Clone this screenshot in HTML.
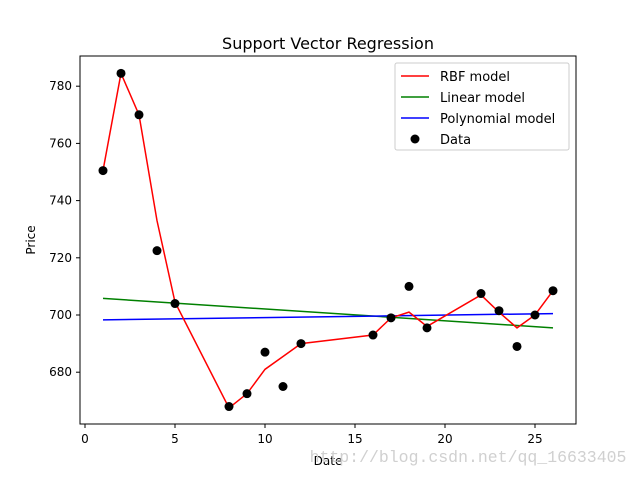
<!DOCTYPE html>
<html><head><meta charset="utf-8"><style>
body{margin:0;background:#fff;width:640px;height:476px;overflow:hidden}
text{font-family:"DejaVu Sans","Liberation Sans",sans-serif;fill:#000}
</style></head><body>
<svg id="chart" width="640" height="476">
<rect x="0" y="0" width="640" height="476" fill="#fff"/>
<text x="328" y="49" font-size="16" text-anchor="middle">Support Vector Regression</text>
<g id="plot"></g>
<rect x="80" y="56" width="496" height="368" fill="none" stroke="#000" stroke-width="1"/>
<text x="328" y="465" font-size="12" text-anchor="middle">Date</text>
<text x="35" y="240" font-size="12" text-anchor="middle" transform="rotate(-90 35 240)">Price</text>
<g>
<rect x="395" y="63" width="174" height="87" fill="#fff" stroke="#ccc" rx="2"/>
<line x1="401" y1="76" x2="429" y2="76" stroke="red" stroke-width="1.5"/>
<text x="440" y="81" font-size="13">RBF model</text>
<line x1="401" y1="97" x2="429" y2="97" stroke="green" stroke-width="1.5"/>
<text x="440" y="102" font-size="13">Linear model</text>
<line x1="401" y1="118" x2="429" y2="118" stroke="blue" stroke-width="1.5"/>
<text x="440" y="123" font-size="13">Polynomial model</text>
<circle cx="415" cy="139" r="4.5" fill="#000"/>
<text x="440" y="144" font-size="13">Data</text>
</g>
<text x="468" y="462" font-size="16.5" text-anchor="middle" style="fill:#d0d0d0;font-family:'Liberation Mono',monospace">http://blog.csdn.net/qq_16633405</text>
</svg>
<script>
const dates=[1,2,3,4,5,8,9,10,11,12,16,17,18,19,22,23,24,25,26];
const prices=[750.5,784.5,770,722.5,704,668,672.5,687,675,690,693,699,710,695.5,707.5,701.5,689,700,708.5];
const rbf=[750.5,784.5,770,733,704.5,667.5,672.5,681,685.5,690,693,699,701,696,707,701,695.5,700,708.5];
const linearEnds=[705.8,695.5];
const polyEnds=[698.3,700.5];
const xTicks=[0,5,10,15,20,25];
const yTicks=[680,700,720,740,760,780];
const X=v=>85+18*v, Y=v=>315-(v-700)*2.86;
const NS="http://www.w3.org/2000/svg";
const g=document.getElementById('plot');
function mk(t,a){const e=document.createElementNS(NS,t);for(const k in a)e.setAttribute(k,a[k]);g.appendChild(e);return e;}
xTicks.forEach(t=>{
  const l=mk('line',{x1:X(t),x2:X(t),y1:424,y2:428,stroke:'#000'});
  
  
  const tx=mk('text',{x:X(t),y:443,'font-size':12,'text-anchor':'middle'});tx.textContent=t;
  
  
});
yTicks.forEach(t=>{
  const l=mk('line',{x1:76,x2:80,y1:Y(t),y2:Y(t),stroke:'#000'});
  
  
  const tx=mk('text',{x:72,y:Y(t)+4,'font-size':12,'text-anchor':'end'});tx.textContent=t;
  
  
});
const d0=dates[0],d1=dates[dates.length-1];
const lin=mk('line',{x1:X(d0),y1:Y(linearEnds[0]),x2:X(d1),y2:Y(linearEnds[1]),stroke:'green','stroke-width':1.5});


const pol=mk('line',{x1:X(d0),y1:Y(polyEnds[0]),x2:X(d1),y2:Y(polyEnds[1]),stroke:'blue','stroke-width':1.5});


const pts=dates.map((d,i)=>X(d)+','+Y(rbf[i])).join(' ');
const rl=mk('polyline',{points:pts,fill:'none',stroke:'red','stroke-width':1.5});


dates.forEach((d,i)=>{
  const c=mk('circle',{cx:X(d),cy:Y(prices[i]),r:4.5,fill:'#000'});
  
  
});
</script>
</body></html>
